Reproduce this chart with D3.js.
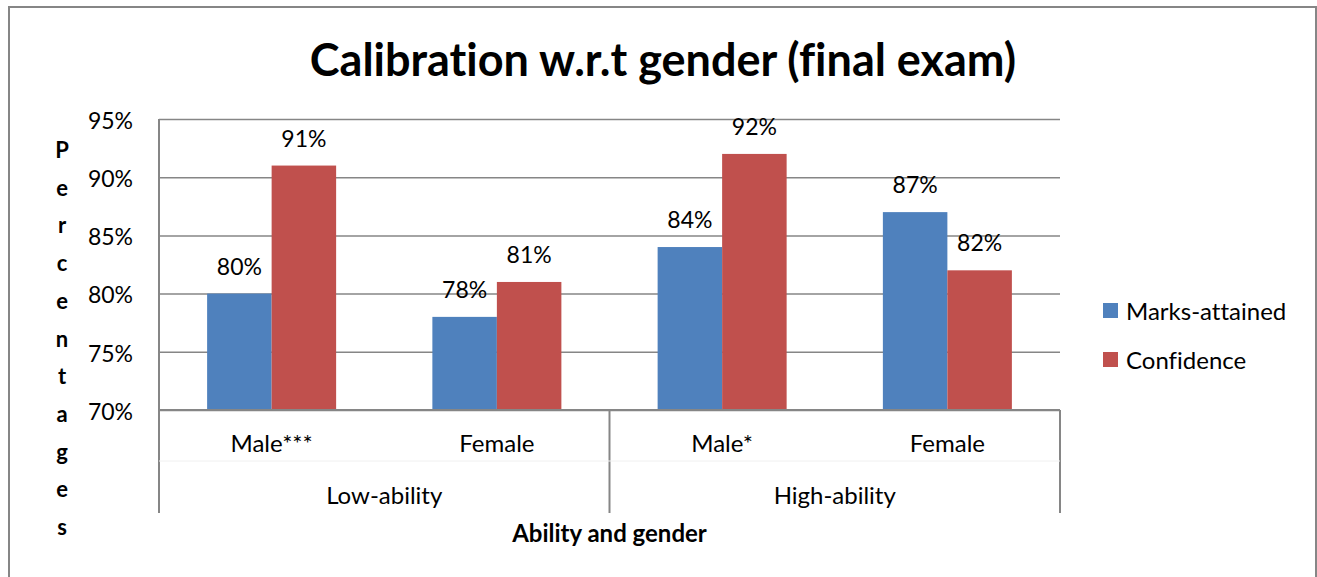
<!DOCTYPE html>
<html>
<head>
<meta charset="utf-8">
<script src="https://cdn.jsdelivr.net/npm/d3@7"></script>
<style>
  body { margin: 0; background: #fff; }
  svg { display: block; font-family: Lato, "Open Sans", sans-serif; font-variant-ligatures: none; }
</style>
</head>
<body>
<svg id="chart"></svg>
<script>
// chart data
const genders = ["Male***", "Female", "Male*", "Female"];
const abilities = ["Low-ability", "High-ability"];
const abilityOf = [0, 0, 1, 1];
const seriesNames = ["Marks-attained", "Confidence"];
const marksAttained = [80, 78, 84, 87];
const confidence = [91, 81, 92, 82];
const yTicks = [70, 75, 80, 85, 90, 95];

const width = 1317, height = 577;
const marginLeft = 159, plotRight = 1060, marginTop = 119, axisY = 410;
const colors = ["#4F81BD", "#C0504D"];
const gridColor = "#868686";

const svg = d3.select("#chart").attr("width", width).attr("height", height);

// outer chart border
svg.append("rect")
    .attr("x", 9).attr("y", 7)
    .attr("width", 1307).attr("height", 600)
    .attr("fill", "none")
    .attr("stroke", gridColor)
    .attr("stroke-width", 2);

const x = d3.scaleBand()
    .domain(d3.range(genders.length))
    .range([marginLeft, plotRight])
    .padding(0);

const x1 = d3.scaleBand()
    .domain(seriesNames)
    .range([0, x.bandwidth()])
    .paddingInner(0)
    .paddingOuter(0.746);

const y = d3.scaleLinear()
    .domain([70, 95])
    .range([axisY, marginTop]);

// gridlines
svg.append("g")
    .attr("transform", `translate(${marginLeft},0)`)
    .call(d3.axisLeft(y).tickValues(yTicks).tickSize(-(plotRight - marginLeft)).tickFormat(""))
    .call(g => g.select(".domain").remove())
    .call(g => g.selectAll("line").attr("stroke", gridColor).attr("stroke-width", 1.5));

// y tick labels
svg.append("g")
    .attr("transform", `translate(${marginLeft},0)`)
    .call(d3.axisLeft(y).tickValues(yTicks).tickSize(0).tickPadding(26).tickFormat(d => d + "%"))
    .call(g => g.select(".domain").remove())
    .call(g => g.selectAll("text")
        .attr("font-family", "Lato, sans-serif")
        .attr("font-size", 23)
        .attr("fill", "#000")
        .attr("dy", "0.4em"));

// bars
const seriesData = [marksAttained, confidence];
const bars = svg.append("g");
seriesData.forEach((vals, s) => {
  bars.selectAll(null)
    .data(vals)
    .join("rect")
      .attr("x", (d, i) => x(i) + x1(seriesNames[s]))
      .attr("y", d => y(d))
      .attr("width", x1.bandwidth())
      .attr("height", d => y(70) - y(d))
      .attr("fill", colors[s]);
  bars.selectAll(null)
    .data(vals)
    .join("text")
      .attr("x", (d, i) => x(i) + x1(seriesNames[s]) + x1.bandwidth() / 2)
      .attr("y", d => y(d) - 19)
      .attr("text-anchor", "middle")
      .attr("font-size", 23)
      .text(d => d + "%");
});

// axes lines
const axisG = svg.append("g").attr("stroke", gridColor).attr("stroke-width", 2);
axisG.append("line")
    .attr("x1", marginLeft).attr("x2", marginLeft)
    .attr("y1", marginTop).attr("y2", 513);
axisG.append("line")
    .attr("x1", marginLeft).attr("x2", plotRight)
    .attr("y1", axisY).attr("y2", axisY);
[0, 2, 4].forEach(i => {
  const xx = i < genders.length ? x(i) : plotRight;
  axisG.append("line")
      .attr("x1", xx).attr("x2", xx)
      .attr("y1", axisY).attr("y2", 513);
});
svg.append("line")
    .attr("x1", marginLeft).attr("x2", plotRight)
    .attr("y1", 461).attr("y2", 461)
    .attr("stroke", "#f0f0f0").attr("stroke-width", 1);

// category labels
svg.append("g")
  .selectAll("text")
  .data(genders)
  .join("text")
    .attr("x", (d, i) => x(i) + x.bandwidth() / 2)
    .attr("y", 452)
    .attr("text-anchor", "middle")
    .attr("font-size", 24)
    .text(d => d);

svg.append("g")
  .selectAll("text")
  .data(abilities)
  .join("text")
    .attr("x", (d, gi) => {
      const idx = abilityOf.map((a, i) => a === gi ? i : -1).filter(i => i >= 0);
      return (x(idx[0]) + x(idx[idx.length - 1]) + x.bandwidth()) / 2;
    })
    .attr("y", 504)
    .attr("text-anchor", "middle")
    .attr("font-size", 24)
    .text(d => d);

// title
svg.append("text")
    .attr("x", 663).attr("y", 76)
    .attr("text-anchor", "middle")
    .attr("font-size", 45)
    .attr("font-weight", "bold")
    .text("Calibration w.r.t gender (final exam)");

// x axis title
svg.append("text")
    .attr("x", (marginLeft + plotRight) / 2).attr("y", 542)
    .attr("text-anchor", "middle")
    .attr("font-size", 24)
    .attr("font-weight", "bold")
    .text("Ability and gender");

// y axis title, stacked letters
svg.append("g")
  .selectAll("text")
  .data("Percentages".split(""))
  .join("text")
    .attr("x", 62)
    .attr("y", (d, i) => 158 + i * 37.7)
    .attr("text-anchor", "middle")
    .attr("font-size", 22)
    .attr("font-weight", "bold")
    .text(d => d);

// legend
const legend = svg.append("g").attr("transform", "translate(1103,303)");
seriesNames.forEach((name, i) => {
  legend.append("rect")
      .attr("x", 0).attr("y", i * 49)
      .attr("width", 15).attr("height", 15)
      .attr("fill", colors[i]);
  legend.append("text")
      .attr("x", 23).attr("y", i * 49 + 8)
      .attr("dy", "0.36em")
      .attr("font-size", 24)
      .text(name);
});
</script>
</body>
</html>
